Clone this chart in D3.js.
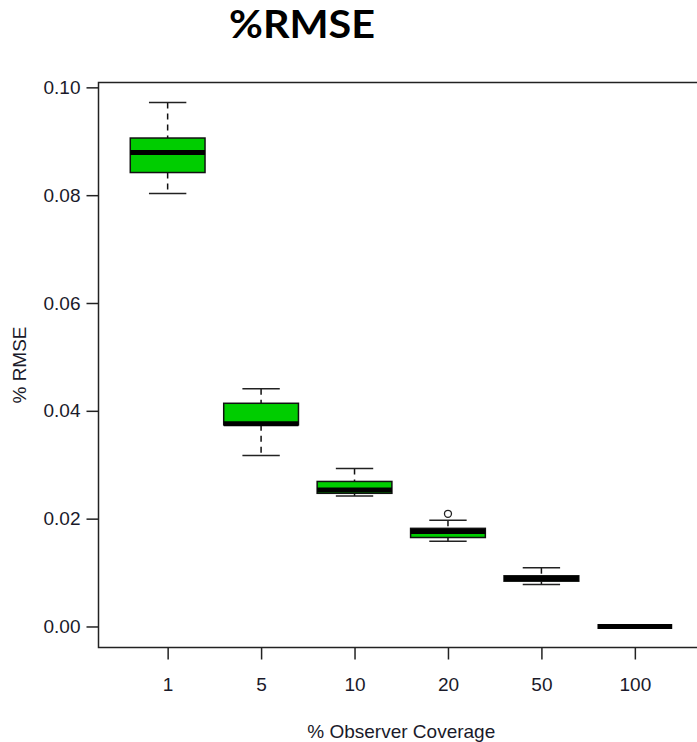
<!DOCTYPE html>
<html>
<head>
<meta charset="utf-8">
<script src="https://cdn.jsdelivr.net/npm/d3@7"></script>
<style>
  html, body { margin: 0; padding: 0; background: #fff; }
  svg { display: block; }
</style>
</head>
<body>
<div id="chart"></div>
<script>
// coverage levels on the x axis
const categories = ["1", "5", "10", "20", "50", "100"];
// box statistics per coverage level
const lowerWhisker = [0.0803, 0.0317, 0.0242, 0.0158, 0.0078, 0];
const q1 = [0.0842, 0.0374, 0.0247, 0.0165, 0.0084, 0];
const median = [0.0879, 0.0376, 0.0253, 0.0176, 0.0089, 0];
const q3 = [0.0906, 0.0414, 0.0269, 0.0182, 0.0094, 0];
const upperWhisker = [0.0972, 0.0441, 0.0293, 0.0197, 0.0109, 0];
const outlierCat = ["20"];
const outlierVal = [0.0209];
const yTicks = [0, 0.02, 0.04, 0.06, 0.08, 0.10];

const width = 697
const height = 742

const svg = d3.select("#chart").append("svg")
  .attr("width", width)
  .attr("height", height)
  .attr("viewBox", [0, 0, width, height]);

// R-style limits: 0.5..n+0.5 padded by 4%
const x = d3.scaleLinear()
  .domain([0.26, 6.74])
  .range([98.5, 704]);

const y = d3.scaleLinear()
  .domain([-0.0039, 0.1009])
  .range([647.5, 82.5]);

const boxW = (x(1) - x(0)) * 0.8;
const fontFam = "'Liberation Sans', Arial, sans-serif";

// title
svg.append("text")
  .attr("x", 302)
  .attr("y", 38)
  .attr("text-anchor", "middle")
  .attr("font-family", "Lato, 'Open Sans', sans-serif")
  .attr("font-weight", "bold")
  .attr("font-size", 39)
  .attr("textLength", 146)
  .attr("lengthAdjust", "spacingAndGlyphs")
  .text("%RMSE");

const yAxis = g => g
  .attr("transform", `translate(${x.range()[0]},0)`)
  .call(d3.axisLeft(y).tickValues(yTicks).tickFormat(d3.format(".2f")).tickSize(12).tickPadding(6))
  .call(g => g.select(".domain").remove())
  .call(g => g.selectAll(".tick line").attr("stroke", "#222").attr("stroke-width", 1.5))
  .call(g => g.selectAll(".tick text").attr("fill", "#1a1a2a"))
  .attr("font-family", fontFam)
  .attr("font-size", 19);

const xAxis = g => g
  .attr("transform", `translate(0,${y.range()[0]})`)
  .call(d3.axisBottom(x).tickValues(d3.range(1, categories.length + 1))
    .tickFormat(i => categories[i - 1]).tickSize(12).tickPadding(18))
  .call(g => g.select(".domain").remove())
  .call(g => g.selectAll(".tick line").attr("stroke", "#222").attr("stroke-width", 1.5))
  .call(g => g.selectAll(".tick text").attr("fill", "#1a1a2a"))
  .attr("font-family", fontFam)
  .attr("font-size", 19);

svg.append("g").call(yAxis);
svg.append("g").call(xAxis);

// frame
svg.append("rect")
  .attr("x", x.range()[0])
  .attr("y", y.range()[1])
  .attr("width", x.range()[1] - x.range()[0])
  .attr("height", y.range()[0] - y.range()[1])
  .attr("fill", "none")
  .attr("stroke", "#222")
  .attr("stroke-width", 1.5);

// axis titles
svg.append("text")
  .attr("x", (x.range()[0] + x.range()[1]) / 2)
  .attr("y", 738)
  .attr("text-anchor", "middle")
  .attr("font-family", fontFam)
  .attr("font-size", 19)
  .attr("fill", "#1a1a2a")
  .text("% Observer Coverage");

svg.append("text")
  .attr("transform", `translate(26,${(y.range()[0] + y.range()[1]) / 2}) rotate(-90)`)
  .attr("text-anchor", "middle")
  .attr("font-family", fontFam)
  .attr("font-size", 19)
  .attr("fill", "#1a1a2a")
  .text("% RMSE");

const data = categories.map((c, i) => ({
  pos: i + 1,
  lo: lowerWhisker[i],
  q1: q1[i],
  med: median[i],
  q3: q3[i],
  hi: upperWhisker[i],
}));

const boxes = svg.append("g").selectAll("g")
  .data(data)
  .join("g");

// whiskers
boxes.append("line")
  .attr("x1", d => x(d.pos)).attr("x2", d => x(d.pos))
  .attr("y1", d => y(d.hi)).attr("y2", d => y(d.q3))
  .attr("stroke", "#111").attr("stroke-width", 1.5).attr("stroke-dasharray", "6,5");
boxes.append("line")
  .attr("x1", d => x(d.pos)).attr("x2", d => x(d.pos))
  .attr("y1", d => y(d.q1)).attr("y2", d => y(d.lo))
  .attr("stroke", "#111").attr("stroke-width", 1.5).attr("stroke-dasharray", "6,5");

// staples
[d => d.hi, d => d.lo].forEach(acc => {
  boxes.append("line")
    .attr("x1", d => x(d.pos) - boxW / 4).attr("x2", d => x(d.pos) + boxW / 4)
    .attr("y1", d => y(acc(d))).attr("y2", d => y(acc(d)))
    .attr("stroke", "#222").attr("stroke-width", 1.5);
});

// boxes
boxes.append("rect")
  .attr("x", d => x(d.pos) - boxW / 2)
  .attr("y", d => y(d.q3))
  .attr("width", boxW)
  .attr("height", d => y(d.q1) - y(d.q3))
  .attr("fill", "#00CD00")
  .attr("stroke", "#111")
  .attr("stroke-width", 1.5);

// medians
boxes.append("line")
  .attr("x1", d => x(d.pos) - boxW / 2).attr("x2", d => x(d.pos) + boxW / 2)
  .attr("y1", d => y(d.med)).attr("y2", d => y(d.med))
  .attr("stroke", "#000").attr("stroke-width", 5);

// outliers
svg.append("g").selectAll("circle")
  .data(outlierVal)
  .join("circle")
  .attr("cx", (d, i) => x(categories.indexOf(outlierCat[i]) + 1))
  .attr("cy", d => y(d))
  .attr("r", 3.5)
  .attr("fill", "none")
  .attr("stroke", "#222")
  .attr("stroke-width", 1.3);
</script>
</body>
</html>
